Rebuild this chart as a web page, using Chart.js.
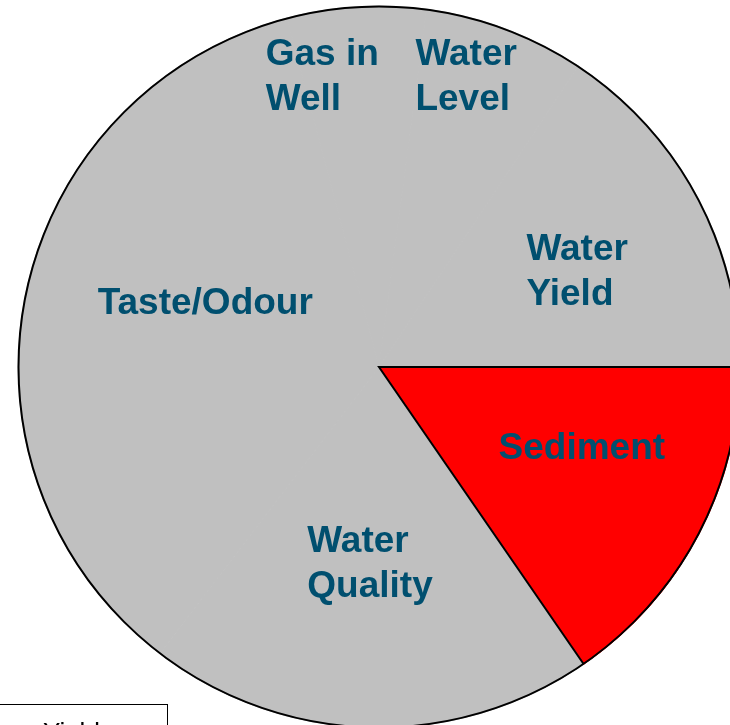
<!DOCTYPE html>
<html>
<head>
<meta charset="utf-8">
<script src="https://cdn.jsdelivr.net/npm/chart.js@4/dist/chart.umd.min.js"></script>
<style>
  html, body { margin: 0; padding: 0; background: #fff; overflow: hidden; width: 730px; height: 725px; }
  #wrap { position: absolute; left: 0; top: 0; width: 758px; height: 734px; }
  #legendBox {
    position: absolute; left: -2px; top: 704px; width: 170px; height: 40px;
    border: 1.5px solid #000; background: #fff; box-sizing: border-box;
    font: 26px "Liberation Sans", Arial, sans-serif; color: #000;
    padding: 14px 0 0 44px; line-height: 26px; z-index: 2;
  }
</style>
</head>
<body>
<div id="wrap"><canvas id="c" width="758" height="734"></canvas></div>
<div id="legendBox">Yield</div>
<script>
// Categories (clockwise from 3 o'clock)
const categories = ["Sediment", "Water Quality", "Taste/Odour", "Gas in Well", "Water Level", "Water Yield"];
// Share of responses (%)
const shares = [15.4, 20.0, 35.5, 6.2, 7.2, 15.7];
// Label text as shown on the slices
const sliceLabels = [["Sediment"], ["Water", "Quality"], ["Taste/Odour"], ["Gas in", "Well"], ["Water", "Level"], ["Water", "Yield"]];

const sliceColors = ['#FF0000', '#C0C0C0', '#C0C0C0', '#C0C0C0', '#C0C0C0', '#C0C0C0'];

const labelStyle = {
  angleOffset: [-6.2, 1.2, 9.2, -7.4, -3.9, 2.2],
  radiusFrac: [0.604, 0.541, 0.514, 0.824, 0.844, 0.611],
  font: 'bold 37px "Liberation Sans", Arial, sans-serif',
  color: '#004F6F',
  lineHeight: 45
};

const outlinePlugin = {
  id: 'outline',
  afterDatasetsDraw(chart) {
    const meta = chart.getDatasetMeta(0);
    const a = meta.data[0];
    if (!a) return;
    const ctx = chart.ctx;
    ctx.save();
    ctx.lineWidth = 2;
    ctx.strokeStyle = '#000';
    ctx.lineJoin = 'miter';
    // edges of the highlighted (red) slice
    ctx.beginPath();
    ctx.moveTo(a.x + Math.cos(a.endAngle) * a.outerRadius, a.y + Math.sin(a.endAngle) * a.outerRadius);
    ctx.lineTo(a.x, a.y);
    ctx.lineTo(a.x + Math.cos(a.startAngle) * a.outerRadius, a.y + Math.sin(a.startAngle) * a.outerRadius);
    ctx.stroke();
    // outer circle
    ctx.beginPath();
    ctx.arc(a.x, a.y, a.outerRadius - 0.5, 0, Math.PI * 2);
    ctx.stroke();
    ctx.restore();
  }
};

const sliceLabelPlugin = {
  id: 'sliceLabels',
  afterDraw(chart) {
    const meta = chart.getDatasetMeta(0);
    const ctx = chart.ctx;
    ctx.save();
    ctx.font = labelStyle.font;
    ctx.fillStyle = labelStyle.color;
    ctx.textAlign = 'left';
    ctx.textBaseline = 'middle';
    meta.data.forEach((arc, i) => {
      const mid = (arc.startAngle + arc.endAngle) / 2 + labelStyle.angleOffset[i] * Math.PI / 180;
      const r = arc.outerRadius * labelStyle.radiusFrac[i];
      const cx = arc.x + Math.cos(mid) * r;
      const cy = arc.y + Math.sin(mid) * r;
      const lines = sliceLabels[i];
      const w = Math.max(...lines.map(l => ctx.measureText(l).width));
      const left = cx - w / 2;
      const top = cy - (lines.length - 1) * labelStyle.lineHeight / 2;
      lines.forEach((l, k) => ctx.fillText(l, left, top + k * labelStyle.lineHeight + 2));
    });
    ctx.restore();
  }
};

new Chart(document.getElementById('c'), {
  type: 'pie',
  data: {
    labels: categories,
    datasets: [{
      data: shares,
      backgroundColor: sliceColors,
      borderColor: sliceColors,
      borderWidth: 1,
      hoverOffset: 0
    }]
  },
  options: {
    responsive: false,
    animation: false,
    rotation: 90,
    radius: 361,
    layout: { padding: 0 },
    plugins: { legend: { display: false }, tooltip: { enabled: false } }
  },
  plugins: [outlinePlugin, sliceLabelPlugin]
});
</script>
</body>
</html>
